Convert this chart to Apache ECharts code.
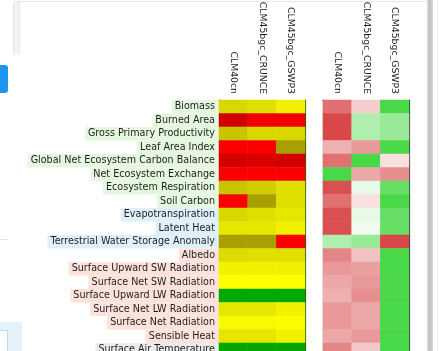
<!DOCTYPE html>
<html>
<head>
<meta charset="utf-8">
<script src="https://cdn.jsdelivr.net/npm/echarts@6/dist/echarts.min.js"></script>
<style>
  html, body { margin: 0; padding: 0; background: #ffffff; }
  #chart { width: 444px; height: 351px; }
</style>
</head>
<body>
<div id="chart"></div>
<script>
// Model runs (columns of both panels)
const models = ['CLM40cn', 'CLM45bgc_CRUNCE', 'CLM45bgc_GSWP3'];

// Benchmark variables (rows, top to bottom)
const variables = [
  'Biomass', 'Burned Area', 'Gross Primary Productivity', 'Leaf Area Index',
  'Global Net Ecosystem Carbon Balance', 'Net Ecosystem Exchange',
  'Ecosystem Respiration', 'Soil Carbon',
  'Evapotranspiration', 'Latent Heat', 'Terrestrial Water Storage Anomaly',
  'Albedo', 'Surface Upward SW Radiation', 'Surface Net SW Radiation',
  'Surface Upward LW Radiation', 'Surface Net LW Radiation',
  'Surface Net Radiation', 'Sensible Heat',
  'Surface Air Temperature'
];

// Section each variable belongs to (sets its label shading)
const sections = [
  'carbon', 'carbon', 'carbon', 'carbon', 'carbon', 'carbon', 'carbon', 'carbon',
  'hydro', 'hydro', 'hydro',
  'energy', 'energy', 'energy', 'energy', 'energy', 'energy', 'energy',
  'forcing'
];

// Left panel: score level per variable and model (0 = worst ... 8 = best)
const scoreLevels = [
  [4.0, 4.5, 6.0],
  [0.0, 0.8, 0.8],
  [3.0, 4.0, 4.0],
  [1.0, 1.0, 2.0],
  [0.0, 0.2, 0.0],
  [1.0, 1.0, 1.0],
  [3.0, 3.5, 4.5],
  [1.0, 2.0, 4.5],
  [4.0, 4.5, 5.0],
  [5.0, 5.0, 6.0],
  [2.0, 2.0, 1.0],
  [4.3, 4.5, 4.5],
  [6.0, 6.0, 5.8],
  [7.0, 7.0, 7.0],
  [8.0, 8.0, 8.0],
  [5.0, 5.0, 6.0],
  [6.5, 6.5, 6.8],
  [5.0, 5.0, 6.0],
  [8.0, 8.0, 8.0]
];

// Right panel: relative score per variable and model (-1 worst, +1 best)
const relativeScores = [
  [-0.78, -0.26,  1.00],
  [-1.00,  0.43,  0.56],
  [-1.00,  0.43,  0.56],
  [-0.43, -0.56,  1.00],
  [-0.78,  1.00, -0.17],
  [ 1.00, -0.48, -0.61],
  [-0.96,  0.13,  0.83],
  [-0.78, -0.17,  1.00],
  [-0.96,  0.13,  0.83],
  [-0.96,  0.08,  0.83],
  [ 0.43,  0.56, -1.00],
  [-0.66, -0.34,  1.00],
  [-0.56, -0.52,  1.00],
  [-0.48, -0.56,  1.00],
  [-0.43, -0.61,  1.00],
  [-0.56, -0.48,  1.00],
  [-0.56, -0.48,  1.00],
  [-0.48, -0.56,  1.00],
  [-0.66, -0.30,  1.00]
];

function toCells(table) {
  const out = [];
  table.forEach((row, r) => row.forEach((v, c) => out.push([c, r, v])));
  return out;
}

const ROW_H = 13.5;
const FONT = 'DejaVu Sans';
const sectionBg = { carbon: '#e6f7df', hydro: '#e0f0fb', energy: '#fde2dc', forcing: '#ebebeb' };
const rich = {};
Object.keys(sectionBg).forEach(k => {
  rich[k] = {
    backgroundColor: sectionBg[k], padding: [0, 4, 0, 3],
    height: ROW_H, lineHeight: ROW_H, fontSize: 9.6, fontFamily: FONT, color: '#1e1e1e'
  };
});

const chart = echarts.init(document.getElementById('chart'), null, { renderer: 'canvas' });

// panels run past the bottom edge of the view
const gridTop = 100;
const gridH = ROW_H * variables.length;
const frame = c => ({ show: true, lineStyle: { color: c, width: 1.2 } });

function topAxis(gi, frameColor) {
  return {
    gridIndex: gi, type: 'category', data: models, position: 'top',
    axisLine: frame(frameColor), axisTick: { show: false }, splitLine: { show: false },
    axisLabel: { interval: 0, rotate: 90, margin: 6, fontSize: 9.3, fontFamily: FONT, color: '#1e1e1e' }
  };
}
function sideAxis(gi, pos, frameColor, labels) {
  const ax = {
    gridIndex: gi, type: 'category', data: variables, inverse: true, position: pos,
    axisLine: frame(frameColor), axisTick: { show: false }, splitLine: { show: false },
    axisLabel: { show: false }
  };
  if (labels) {
    ax.axisLabel = {
      show: true, interval: 0, margin: 0,
      formatter: (v, i) => '{' + sections[i] + '|' + v + '}',
      rich: rich
    };
  }
  return ax;
}

chart.setOption({
  animation: false,
  backgroundColor: '#ffffff',
  grid: [
    { left: 219, top: gridTop, width: 86, height: gridH, outerBoundsMode: 'none', containLabel: false },
    { left: 323, top: gridTop, width: 86, height: gridH, outerBoundsMode: 'none', containLabel: false }
  ],
  xAxis: [topAxis(0, '#33300a'), topAxis(1, '#333333')],
  yAxis: [
    sideAxis(0, 'left', '#3a3a10', true),
    sideAxis(0, 'right', '#2f5a10', false),
    sideAxis(1, 'left', '#3c3c3c', false),
    sideAxis(1, 'right', '#3c3c3c', false)
  ],
  visualMap: [
    {
      type: 'continuous', seriesIndex: 0, min: 0, max: 8, show: false,
      inRange: { color: ['#d20000', '#fa0000', '#a8a000', '#c8c400', '#d8d800',
                         '#e6e600', '#f2f200', '#ffff00', '#00a800'] }
    },
    {
      type: 'continuous', seriesIndex: 1, min: -1, max: 1, show: false,
      inRange: { color: ['#d84848', '#ffffff', '#48d848'] }
    }
  ],
  series: [
    { type: 'heatmap', xAxisIndex: 0, yAxisIndex: 0, data: toCells(scoreLevels),
      emphasis: { disabled: true } },
    { type: 'heatmap', xAxisIndex: 1, yAxisIndex: 2, data: toCells(relativeScores),
      emphasis: { disabled: true } }
  ],
  graphic: [
    // page card behind the figure
    { type: 'rect', z: -10, shape: { x: 13, y: 1, width: 7, height: 54 }, style: { fill: '#f3f3f3' } },
    { type: 'line', z: -9, shape: { x1: 13.5, y1: 3, x2: 13.5, y2: 55 }, style: { stroke: '#e4e4e4', lineWidth: 1 } },
    { type: 'line', z: -9, shape: { x1: 19.5, y1: 3, x2: 19.5, y2: 55 }, style: { stroke: '#e8e8e8', lineWidth: 1 } },
    { type: 'line', z: -9, shape: { x1: 15, y1: 1.5, x2: 427, y2: 1.5 }, style: { stroke: '#e6e6e6', lineWidth: 1 } },
    // side button
    { type: 'rect', z: -9, shape: { x: -4, y: 65, width: 12, height: 28, r: 3 }, style: { fill: '#1e96f0' } },
    { type: 'line', z: -9, shape: { x1: 0, y1: 239.5, x2: 8, y2: 239.5 }, style: { stroke: '#e2e2e2', lineWidth: 1 } },
    // lower-left panel
    { type: 'rect', z: -9, shape: { x: 0, y: 322, width: 22, height: 29 }, style: { fill: '#e3f1f8' } },
    { type: 'rect', z: -8, shape: { x: -2, y: 330.5, width: 9.5, height: 25 },
      style: { fill: '#ffffff', stroke: '#b9dbee', lineWidth: 1 } },
    // scrollbar strip on the right
    { type: 'rect', z: -9, shape: { x: 427, y: 0, width: 6, height: 351 },
      style: { fill: new echarts.graphic.LinearGradient(0, 0, 1, 0, [
        { offset: 0, color: '#dcdcdc' }, { offset: 0.5, color: '#bdbdbd' }, { offset: 1, color: '#dedede' }
      ]) } },
    { type: 'line', z: -9, shape: { x1: 437.5, y1: 0, x2: 437.5, y2: 351 }, style: { stroke: '#ececec', lineWidth: 1 } }
  ]
});
</script>
</body>
</html>
